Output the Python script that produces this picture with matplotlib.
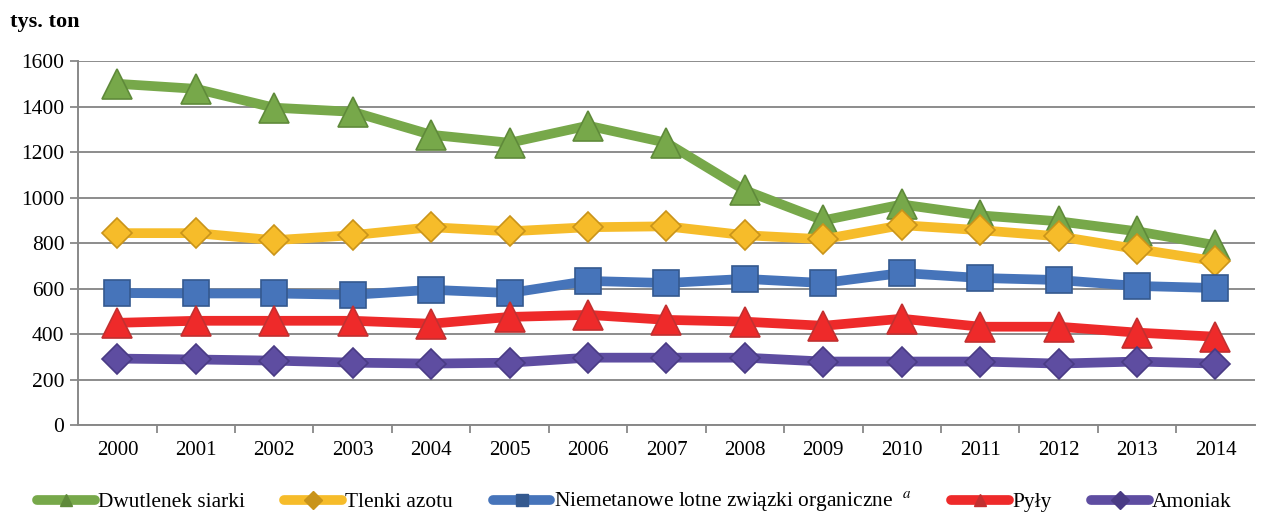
import matplotlib
matplotlib.use("Agg")
import matplotlib.pyplot as plt
from matplotlib.lines import Line2D

lata = [str(r) for r in range(2000, 2015)]
dwutlenek_siarki = [1500, 1478, 1395, 1377, 1276, 1241, 1316, 1241, 1032, 900, 970, 922, 896, 852, 791]
tlenki_azotu = [844, 844, 813, 835, 870, 852, 870, 874, 835, 817, 879, 857, 830, 774, 721]
niemetanowe = [581, 579, 579, 573, 595, 581, 634, 625, 643, 625, 669, 647, 638, 612, 603]
pyly = [450, 459, 459, 459, 446, 476, 485, 463, 455, 437, 468, 433, 433, 407, 389]
amoniak = [293, 289, 284, 275, 271, 275, 297, 297, 297, 280, 280, 280, 271, 280, 271]

serie = [
    ("Dwutlenek siarki", dwutlenek_siarki, "#77a84a", "#5f8a3a", "^", 22),
    ("Tlenki azotu", tlenki_azotu, "#f6bc2a", "#c9941a", "D", 15),
    ("Niemetanowe lotne związki organiczne  $^{a}$", niemetanowe, "#4674ba", "#34598f", "s", 19),
    ("Pyły", pyly, "#ee2a2a", "#c23030", "^", 22),
    ("Amoniak", amoniak, "#5e4da1", "#4a3b85", "D", 15),
]

plt.rcParams["font.family"] = ["Liberation Serif", "DejaVu Serif"]
plt.rcParams["mathtext.fontset"] = "stix"

fig = plt.figure(figsize=(12.61, 5.13), dpi=100)
ax = fig.add_axes([0.062, 0.171, 0.933, 0.71])

x = list(range(len(lata)))
uchwyty = []
for nazwa, y, kolor, krawedz, znacznik, ms in serie:
    ax.plot(x, y, color=kolor, lw=7, marker=znacznik, ms=ms,
            markerfacecolor=kolor, markeredgecolor=krawedz, markeredgewidth=1.2,
            solid_capstyle="round", zorder=3)
    uchwyty.append(Line2D([0], [0], color=kolor, lw=7, marker=znacznik, ms=9,
                          markerfacecolor=krawedz, markeredgecolor=krawedz,
                          solid_capstyle="round", label=nazwa))

ax.set_xlim(-0.5, len(lata) - 0.5)
ax.set_ylim(0, 1600)
ax.set_yticks(range(0, 1601, 200))
ax.set_xticks(x)
ax.set_xticklabels(lata)
ax.set_xticks([i + 0.5 for i in x[:-1]], minor=True)
ax.tick_params(axis="x", which="major", length=0, pad=11, labelsize=15)
ax.tick_params(axis="x", which="minor", length=6, width=1.3, color="#888888")
ax.tick_params(axis="y", length=6, width=1.3, color="#888888", labelsize=15.5, pad=4)
ax.grid(axis="y", color="#8c8c8c", lw=1.4)
ax.set_axisbelow(True)
for s in ["top", "right"]:
    ax.spines[s].set_visible(False)
for s in ["left", "bottom"]:
    ax.spines[s].set_color("#888888")
    ax.spines[s].set_linewidth(1.4)

fig.text(0.008, 0.958, "tys. ton", fontsize=16, fontweight="bold", ha="left", va="center")

fig.legend(handles=uchwyty, loc="lower center", bbox_to_anchor=(0.503, -0.04), ncol=5,
           frameon=False, fontsize=15.4, handlelength=2.7, columnspacing=1.85, handletextpad=0.15)

fig.savefig("out.png", dpi=100)
